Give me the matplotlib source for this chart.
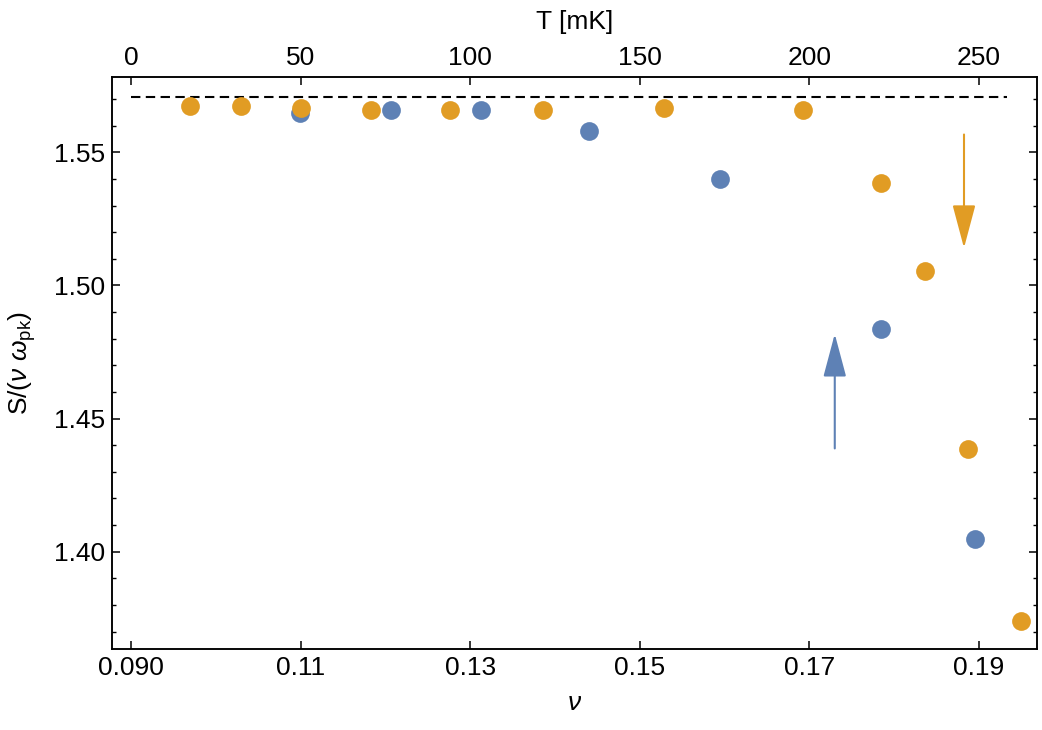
import matplotlib
matplotlib.use("Agg")
import matplotlib.pyplot as plt
from matplotlib.ticker import MultipleLocator, FixedLocator, FixedFormatter
from matplotlib.patches import FancyArrowPatch
import numpy as np

# ---- data ----
nu_orange = [0.0969, 0.1030, 0.1101, 0.1183, 0.1276, 0.1386, 0.1528, 0.1693,
             0.1785, 0.1836, 0.1887, 0.1949]
s_orange = [1.5674, 1.5674, 1.5666, 1.5659, 1.5659, 1.5659, 1.5666, 1.5659,
            1.5385, 1.5056, 1.4384, 1.3741]
T_blue = [49.8, 76.7, 103.2, 134.9, 173.5, 221.1, 248.7]
s_blue = [1.5646, 1.5659, 1.5659, 1.5580, 1.5400, 1.4838, 1.4048]
ref_level = np.pi / 2
ref_nu_range = [0.090, 0.1933]

xticks = [0.090, 0.11, 0.13, 0.15, 0.17, 0.19]
xticklabels = ["0.090", "0.11", "0.13", "0.15", "0.17", "0.19"]
yticks = [1.40, 1.45, 1.50, 1.55]
yticklabels = ["1.40", "1.45", "1.50", "1.55"]
Tticks = [0, 50, 100, 150, 200, 250]

# arrows (annotation positions)
orange_arrow = ((0.18823, 1.5567), (0.18823, 1.5141))
blue_arrow = ((0.17299, 1.4388), (0.17299, 1.4818))

BLUE = "#5E81B5"
ORANGE = "#E19C24"

plt.rcParams['font.family'] = ['Liberation Sans', 'DejaVu Sans']
plt.rcParams['mathtext.fontset'] = 'custom'
plt.rcParams['mathtext.rm'] = 'Liberation Sans'
plt.rcParams['mathtext.it'] = 'Liberation Sans:italic'

fig = plt.figure(figsize=(10.42, 7.30), dpi=100)
ax = fig.add_axes([0.1078, 0.1105, 0.8877, 0.7844])

xmin, xmax = 0.087795, 0.196875
ymin, ymax = 1.36335, 1.5784
# nu -> T mapping (linear, same pixel scale): T = 2500*(nu - 0.09)
def nu2T(v):
    return 2500.0 * (v - 0.09)

ax.set_xlim(xmin, xmax)
ax.set_ylim(ymin, ymax)

ax2 = ax.twiny()
ax2.set_xlim(nu2T(xmin), nu2T(xmax))

# dashed reference line
ax.plot(ref_nu_range, [ref_level, ref_level], color='black', lw=1.5,
        linestyle=(0, (4.5, 2.6)), zorder=2)

ax2.plot(T_blue, s_blue, 'o', color=BLUE, ms=13.5, mec='none', zorder=3)
ax.plot(nu_orange, s_orange, 'o', color=ORANGE, ms=13.5, mec='none', zorder=4)
ax.set_zorder(ax2.get_zorder() + 1)
ax.patch.set_visible(False)

for (start, end), col in ((orange_arrow, ORANGE), (blue_arrow, BLUE)):
    arr = FancyArrowPatch(start, end, arrowstyle="-|>,head_length=2.7,head_width=0.72",
                          mutation_scale=10, color=col, lw=1.5,
                          shrinkA=0, shrinkB=0, zorder=5)
    ax.add_patch(arr)

fs = 19
ax.xaxis.set_major_locator(FixedLocator(xticks))
ax.xaxis.set_major_formatter(FixedFormatter(xticklabels))
ax.yaxis.set_major_locator(FixedLocator(yticks))
ax.yaxis.set_major_formatter(FixedFormatter(yticklabels))
ax.yaxis.set_minor_locator(MultipleLocator(0.01))
ax2.xaxis.set_major_locator(FixedLocator(Tticks))

ax.tick_params(axis='both', which='major', direction='in', length=6, width=1.1,
               labelsize=fs, pad=5)
ax.tick_params(axis='y', which='major', right=True, labelright=False)
ax.tick_params(axis='y', which='minor', direction='in', length=3, width=1.0,
               left=True, right=True)
ax.tick_params(axis='x', which='both', top=False)
ax2.tick_params(axis='x', which='major', direction='in', length=6, width=1.1,
                labelsize=fs, pad=5)
ax2.tick_params(axis='y', which='both', left=False, right=False,
                labelleft=False, labelright=False)

for a in (ax, ax2):
    for sp in a.spines.values():
        sp.set_linewidth(1.1)

ax.set_xlabel(r"$\mathit{\nu}$", fontsize=fs, labelpad=8)
ax2.set_xlabel("T [mK]", fontsize=fs, labelpad=12)
ax.set_ylabel(r"S/($\mathit{\nu}$ $\mathit{\omega}_{\mathrm{pk}}$)", fontsize=fs, labelpad=12)

fig.savefig("out.png", dpi=100)
